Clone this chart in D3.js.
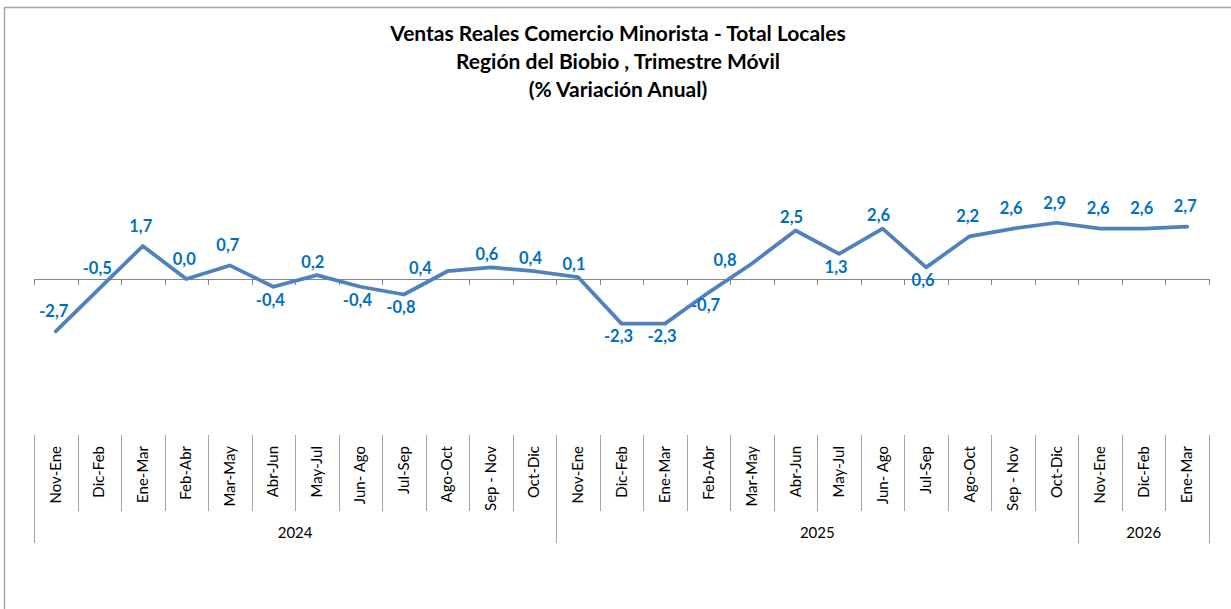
<!DOCTYPE html>
<html>
<head>
<meta charset="utf-8">
<script src="https://cdn.jsdelivr.net/npm/d3@7"></script>
<style>
    body { margin: 0; background: #fff; }
    svg { display: block; font-family: Lato, "Open Sans", sans-serif; }
</style>
</head>
<body>
<div id="chart"></div>
<script>
// periods (trimestre movil) and the year each belongs to
var periods = ["Nov-Ene", "Dic-Feb", "Ene-Mar", "Feb-Abr", "Mar-May", "Abr-Jun", "May-Jul",
    "Jun- Ago", "Jul-Sep", "Ago-Oct", "Sep - Nov", "Oct-Dic",
    "Nov-Ene", "Dic-Feb", "Ene-Mar", "Feb-Abr", "Mar-May", "Abr-Jun", "May-Jul",
    "Jun- Ago", "Jul-Sep", "Ago-Oct", "Sep - Nov", "Oct-Dic",
    "Nov-Ene", "Dic-Feb", "Ene-Mar"];
var years = ["2024", "2025", "2026"];
var periodsPerYear = [12, 12, 3];

// % variacion anual
var values = [-2.7, -0.5, 1.7, 0.0, 0.7, -0.4, 0.2, -0.4, -0.8, 0.4, 0.6, 0.4,
    0.1, -2.3, -2.3, -0.7, 0.8, 2.5, 1.3, 2.6, 0.6, 2.2, 2.6, 2.9,
    2.6, 2.6, 2.7];

// where each data label sits: T far above, t near above, b below, l left
var labelPlace = ["T", "T", "T", "T", "T", "b", "t", "b", "b", "l", "t", "t",
    "t", "b", "b", "b", "l", "t", "b", "t", "b", "T", "T", "T",
    "T", "T", "T"];

var title = ["Ventas Reales Comercio Minorista - Total Locales",
    "Región del Biobio , Trimestre Móvil",
    "(% Variación Anual)"];

var width = 1231, height = 609;
var svg = d3.select("#chart").append("svg")
    .attr("width", width)
    .attr("height", height);

// outer frame (only top and left edges are visible)
svg.append("path")
    .attr("d", "M4.5," + height + "V7.5H" + width)
    .attr("fill", "none")
    .attr("stroke", "#a6a6a6")
    .attr("stroke-width", 1.5);

// title
svg.append("g").selectAll("text")
    .data(title)
    .enter()
    .append("text")
    .attr("x", 618)
    .attr("y", function (d, i) { return 41 + i * 28; })
    .attr("text-anchor", "middle")
    .style("font-weight", "bold")
    .style("font-size", "21px")
    .style("fill", "#000")
    .text(function (d) { return d; });

var x = d3.scaleBand()
    .domain(d3.range(periods.length))
    .range([34, 1209]);

var y = d3.scaleLinear()
    .domain([-4, 4])
    .range([279 + 4 * 19.4, 279 - 4 * 19.4]);

var bw = x.bandwidth();
var edges = d3.range(periods.length + 1).map(function (i) { return x(0) + i * bw; });

// horizontal axis at zero with tick marks between categories
var axisG = svg.append("g");
axisG.append("line")
    .attr("x1", x.range()[0]).attr("x2", x.range()[1])
    .attr("y1", y(0) + 0.5).attr("y2", y(0) + 0.5)
    .attr("stroke", "#868686");
axisG.selectAll("line.tick")
    .data(edges)
    .enter()
    .append("line")
    .attr("class", "tick")
    .attr("x1", function (d) { return Math.round(d) + 0.5; })
    .attr("x2", function (d) { return Math.round(d) + 0.5; })
    .attr("y1", y(0))
    .attr("y2", y(0) + 6)
    .attr("stroke", "#868686");

// category area under the plot
var groupEdges = [0];
periodsPerYear.forEach(function (n, i) { groupEdges.push(groupEdges[i] + n); });

var catG = svg.append("g");
catG.selectAll("line")
    .data(edges)
    .enter()
    .append("line")
    .attr("x1", function (d) { return Math.round(d) + 0.5; })
    .attr("x2", function (d) { return Math.round(d) + 0.5; })
    .attr("y1", 435)
    .attr("y2", function (d, i) { return groupEdges.indexOf(i) >= 0 ? 543 : 511; })
    .attr("stroke", "#a6a6a6");

catG.selectAll("text.cat")
    .data(periods)
    .enter()
    .append("text")
    .attr("class", "cat")
    .attr("transform", function (d, i) {
        return "translate(" + (x(i) + bw / 2 + 5) + ",446) rotate(-90)";
    })
    .attr("text-anchor", "end")
    .style("font-size", "15px")
    .style("fill", "#000")
    .text(function (d) { return d; });

catG.selectAll("text.year")
    .data(years)
    .enter()
    .append("text")
    .attr("class", "year")
    .attr("x", function (d, i) {
        return (edges[groupEdges[i]] + edges[groupEdges[i + 1]]) / 2;
    })
    .attr("y", 538)
    .attr("text-anchor", "middle")
    .style("font-size", "15px")
    .style("fill", "#000")
    .text(function (d) { return d; });

// the series line
var line = d3.line()
    .x(function (d, i) { return x(i) + bw / 2; })
    .y(function (d) { return y(d); });

svg.append("path")
    .datum(values)
    .attr("d", line)
    .attr("fill", "none")
    .attr("stroke", "#4f81bd")
    .attr("stroke-width", 3.75)
    .attr("stroke-linejoin", "round")
    .attr("stroke-linecap", "round");

// data labels
var fmt = function (v) { return d3.format(".1f")(v).replace(".", ",").replace("−", "-"); };
var offs = {
    T: [-2, -20],
    t: [-4, -13],
    b: [-3, 13],
    l: [-27, -3]
};
svg.append("g").selectAll("text")
    .data(values)
    .enter()
    .append("text")
    .attr("x", function (d, i) { return x(i) + bw / 2 + offs[labelPlace[i]][0]; })
    .attr("y", function (d, i) { return y(d) + offs[labelPlace[i]][1]; })
    .attr("dy", "0.35em")
    .attr("text-anchor", "middle")
    .style("font-weight", "bold")
    .style("font-size", "16.5px")
    .style("fill", "#0070c0")
    .text(function (d) { return fmt(d); });
</script>
</body>
</html>
